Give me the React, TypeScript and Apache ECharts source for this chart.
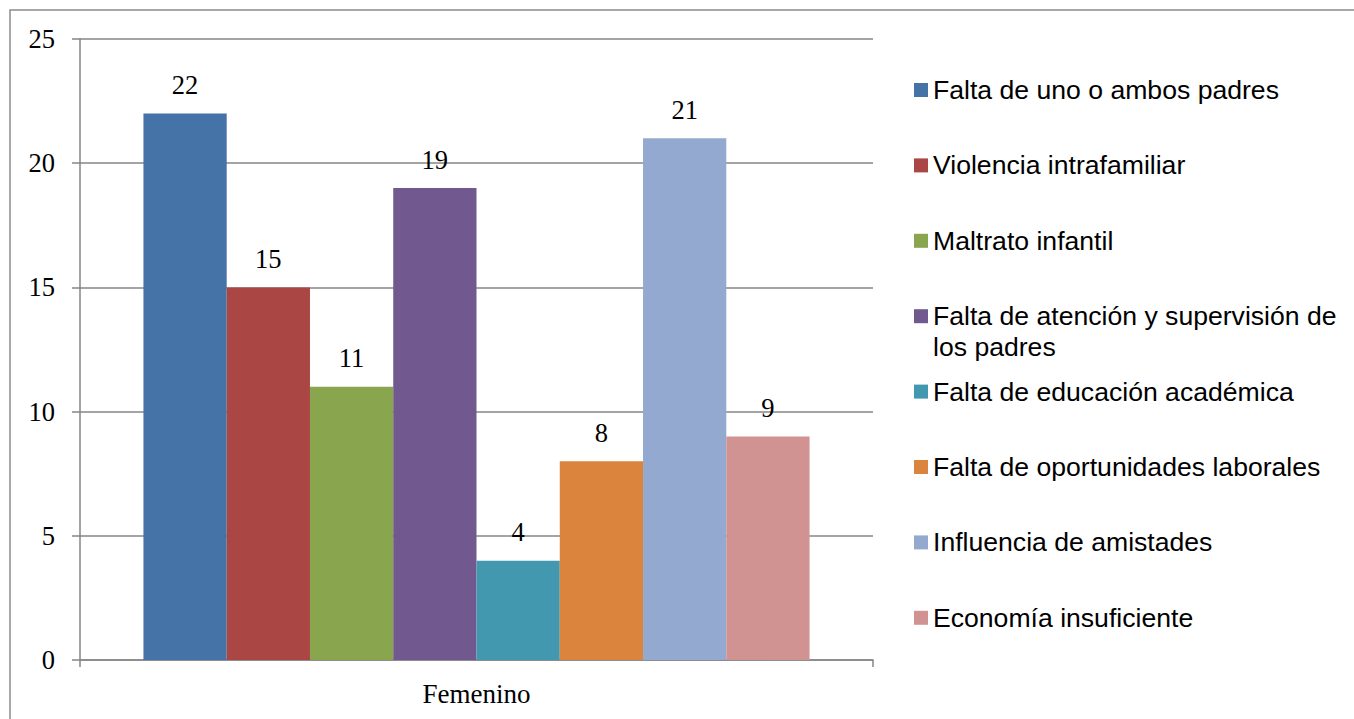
import React, { useEffect, useRef } from "react";
import * as echarts from "echarts";

const categories = ["Femenino"];
const seriesNames = [
  "Falta de uno o ambos padres",
  "Violencia intrafamiliar",
  "Maltrato infantil",
  "Falta de atención y supervisión de los padres",
  "Falta de educación académica",
  "Falta de oportunidades laborales",
  "Influencia de amistades",
  "Economía insuficiente",
];
const seriesValues = [22, 15, 11, 19, 4, 8, 21, 9];
const seriesColors = [
  "#4572A7",
  "#AA4643",
  "#89A54E",
  "#71588F",
  "#4198AF",
  "#DB843D",
  "#93A9CF",
  "#D19392",
];
const yTicks = [0, 5, 10, 15, 20, 25];

const SERIF = "'Liberation Serif', 'DejaVu Serif', serif";
const SANS = "'Liberation Sans', Arial, sans-serif";
const GRID = "#868686";

export default function App() {
  const ref = useRef<HTMLDivElement>(null);

  useEffect(() => {
    if (!ref.current) return;
    const chart = echarts.init(ref.current, null, { renderer: "svg" });

    const legendFirst = 90;
    const legendStep = 75.4;
    const lineH = 31;

    const legends = seriesNames.map((name, i) => {
      const c = legendFirst + i * legendStep;
      const wrapped = name === "Falta de atención y supervisión de los padres";
      return {
        show: true,
        orient: "vertical",
        left: 914,
        top: wrapped ? c - lineH * 1.5 : c - lineH / 2,
        padding: 0,
        itemWidth: 14,
        itemHeight: 14,
        itemGap: 0,
        icon: "rect",
        selectedMode: false,
        data: [name],
        formatter: (n: string) =>
          n === "Falta de atención y supervisión de los padres"
            ? " \nFalta de atención y supervisión de\nlos padres"
            : n,
        textStyle: {
          fontFamily: SANS,
          fontSize: 26.6,
          color: "#000",
          lineHeight: lineH,
        },
      };
    });

    chart.setOption({
      animation: false,
      backgroundColor: "#fff",
      color: seriesColors,
      graphic: [
        {
          type: "rect",
          silent: true,
          z: -10,
          shape: { x: 10, y: 10, width: 1400, height: 800 },
          style: { fill: "transparent", stroke: "#8c8c8c", lineWidth: 1.5 },
        },
      ],
      grid: { left: 80, top: 39, right: 481, bottom: 59, containLabel: false },
      legend: legends,
      xAxis: {
        type: "category",
        data: categories,
        axisLine: { show: true, lineStyle: { color: GRID, width: 1.5 } },
        axisTick: { show: true, length: 7, lineStyle: { color: GRID, width: 1.5 } },
        axisLabel: {
          fontFamily: SERIF,
          fontSize: 27,
          color: "#000",
          margin: 20,
        },
      },
      yAxis: {
        type: "value",
        min: 0,
        max: 25,
        interval: 5,
        axisLine: { show: true, lineStyle: { color: GRID, width: 1.5 } },
        axisTick: { show: true, length: 8, lineStyle: { color: GRID, width: 1.5 } },
        splitLine: { show: true, lineStyle: { color: GRID, width: 1.5 } },
        axisLabel: {
          fontFamily: SERIF,
          fontSize: 26.5,
          color: "#000",
          margin: 25,
          formatter: (v: number) => (yTicks.includes(v) ? String(v) : ""),
        },
      },
      series: seriesNames.map((name, i) => ({
        type: "bar",
        name,
        data: [seriesValues[i]],
        barGap: "0%",
        barCategoryGap: "16%",
        itemStyle: { color: seriesColors[i] },
        label: {
          show: true,
          position: "top",
          distance: 15,
          fontFamily: SERIF,
          fontSize: 26.5,
          color: "#000",
        },
      })),
    });

    return () => chart.dispose();
  }, []);

  return (
    <div
      ref={ref}
      style={{ position: "fixed", left: 0, top: 0, width: 1354, height: 719 }}
    />
  );
}
